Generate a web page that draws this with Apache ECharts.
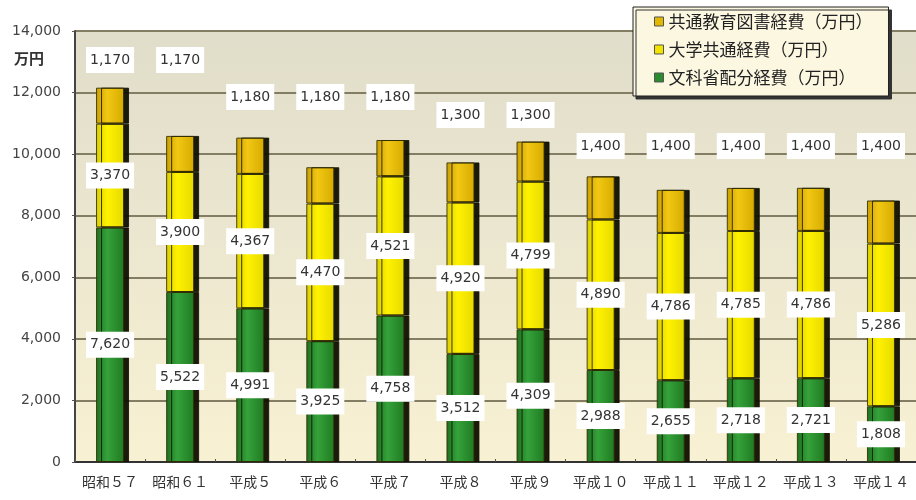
<!DOCTYPE html>
<html><head><meta charset="utf-8">
<script src="https://cdn.jsdelivr.net/npm/echarts@6/dist/echarts.min.js"></script>
<style>html,body{margin:0;padding:0;background:#fff}#c{width:916px;height:500px}</style>
</head><body><div id="c"></div>
<script>
// ---- data ----
const categories = ['昭和５７','昭和６１','平成５','平成６','平成７','平成８','平成９','平成１０','平成１１','平成１２','平成１３','平成１４'];
const mextValues = [7620,5522,4991,3925,4758,3512,4309,2988,2655,2718,2721,1808];
const univValues = [3370,3900,4367,4470,4521,4920,4799,4890,4786,4785,4786,5286];
const bookValues = [1170,1170,1180,1180,1180,1300,1300,1400,1400,1400,1400,1400];
const seriesNames = ['共通教育図書経費（万円）','大学共通経費（万円）','文科省配分経費（万円）'];
const yMin = 0, yMax = 14000, yStep = 2000;
const unitLabel = '万円';
// layout only: pixel centre-y of the floating labels of the top segment, keyed by label value
const bookLabelY = {1170: 60, 1180: 97, 1300: 115, 1400: 146};

function fmt(v){ return String(v).replace(/\B(?=(\d{3})+(?!\d))/g, ','); }
const G = echarts.graphic.LinearGradient;
const cGreen = new G(0,0,1,0,[{offset:0,color:'#1d6f1f'},{offset:0.4,color:'#35a23a'},{offset:1,color:'#1f7a22'}]);
const cYellow = new G(0,0,1,0,[{offset:0,color:'#d9cc00'},{offset:0.4,color:'#fff200'},{offset:1,color:'#e6da00'}]);
const cOrange = new G(0,0,1,0,[{offset:0,color:'#c99e00'},{offset:0.4,color:'#f2c814'},{offset:1,color:'#d6ab00'}]);

const chart = echarts.init(document.getElementById('c'), null, {renderer:'canvas'});
const labelBase = {show:true, formatter:p=>fmt(p.value), backgroundColor:'#ffffff', padding:[5,4],
  color:'#333', fontSize:14, lineHeight:16, fontFamily:'DejaVu Sans'};
const barStyle = (c)=>({color:c, borderColor:'rgba(50,45,0,0.85)', borderWidth:1,
  shadowColor:'rgba(15,15,0,0.95)', shadowOffsetX:5, shadowOffsetY:0, shadowBlur:0});
const BW = 28;

const option = {
  animation:false,
  grid:{left:75, right:-6, top:31, bottom:38, show:true, borderWidth:0,
    backgroundColor:new G(0,0,0,1,[{offset:0,color:'#e0ddca'},{offset:0.45,color:'#ebe6cf'},{offset:1,color:'#f8f1d3'}])},
  legend:{left:633, top:7, orient:'vertical', icon:'rect', itemWidth:9, itemHeight:9, itemGap:11,
    padding:[6,16,10,21], backgroundColor:'#fbf7e0', borderColor:'#222', borderWidth:1,
    shadowColor:'#333', shadowOffsetX:3, shadowOffsetY:3, shadowBlur:0,
    textStyle:{fontSize:17, color:'#222', fontFamily:'Noto Sans CJK JP'},
    data:[
      {name:seriesNames[0], itemStyle:{color:'#e3b800', borderColor:'#555', borderWidth:1}},
      {name:seriesNames[1], itemStyle:{color:'#f0e400', borderColor:'#555', borderWidth:1}},
      {name:seriesNames[2], itemStyle:{color:'#2a8c2e', borderColor:'#555', borderWidth:1}}
    ]},
  graphic:[{type:'text', left:14, top:51, style:{text:unitLabel, fontSize:15, fontWeight:'bold', fill:'#333', fontFamily:'Noto Sans CJK JP'}}],
  xAxis:{type:'category', data:categories,
    axisLine:{lineStyle:{color:'#333', width:2}},
    axisTick:{show:true, inside:true, length:3, lineStyle:{color:'#555'}},
    axisLabel:{interval:0, fontSize:14, color:'#333', margin:13, fontFamily:'Noto Sans CJK JP'}},
  yAxis:{type:'value', min:yMin, max:yMax, interval:yStep,
    axisLine:{show:true, lineStyle:{color:'#444', width:2}},
    axisTick:{show:true, length:3, lineStyle:{color:'#555'}},
    axisLabel:{formatter:v=>fmt(v), fontSize:14, color:'#444', margin:14, fontFamily:'DejaVu Sans'},
    splitLine:{lineStyle:{color:'#827d63', width:2}}},
  series:[
    {name:seriesNames[2], type:'bar', stack:'t', barWidth:BW, data:mextValues, itemStyle:barStyle(cGreen),
      label:Object.assign({}, labelBase, {position:'inside'}), z:2},
    {name:seriesNames[1], type:'bar', stack:'t', barWidth:BW, data:univValues, itemStyle:barStyle(cYellow),
      label:Object.assign({}, labelBase, {position:'inside'}), z:2},
    {name:seriesNames[0], type:'bar', stack:'t', barWidth:BW, data:bookValues, itemStyle:barStyle(cOrange),
      label:Object.assign({}, labelBase, {position:'top'}), z:2}
  ]
};
chart.setOption(option);
// place the floating labels of the top segment
const bookData = bookValues.map((v,i)=>{
  const total = mextValues[i] + univValues[i] + v;
  const top = chart.convertToPixel({xAxisIndex:0, yAxisIndex:0}, [i, total])[1];
  const d = top - bookLabelY[v] - 13;
  return {value:v, label:{distance:d}};
});
chart.setOption({series:[{},{},{data:bookData}]});
</script></body></html>
